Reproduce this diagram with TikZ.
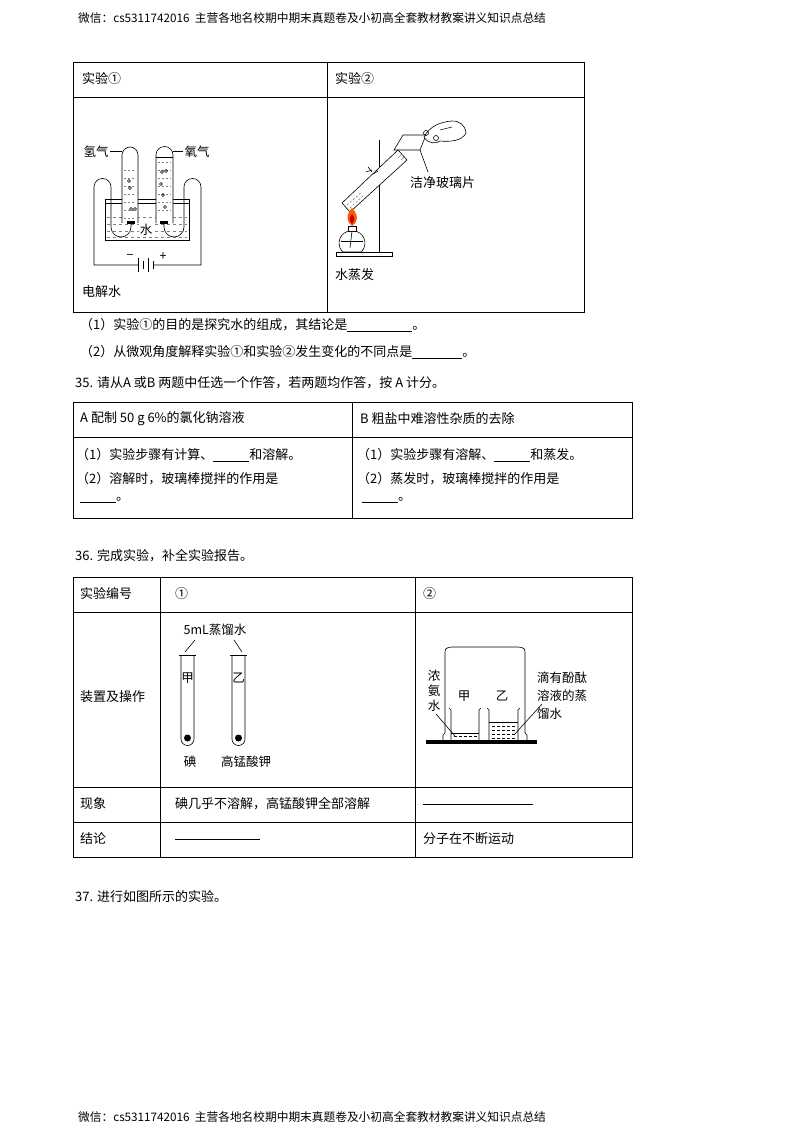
\documentclass[tikz,border=0pt]{standalone}
\usepackage{fontspec}
\setmainfont{Noto Sans CJK SC}
\begin{document}
\begin{tikzpicture}[x=1pt,y=-1pt,
  txt/.style={anchor=west,inner sep=0pt,font=\fontsize{13}{15}\selectfont},
  small/.style={anchor=center,inner sep=0pt,font=\fontsize{12.5}{14}\selectfont},
  hdr/.style={anchor=west,inner sep=0pt,font=\fontsize{11.7}{13}\selectfont},
  tbl/.style={line width=0.9pt},
  app/.style={line width=0.6pt}]
\useasboundingbox (0,0) rectangle (800,1132);
\newcommand{\bl}[1]{\underline{\hspace{#1}}}
% header/footer
\node[hdr] (h1) at (78,18) {微信：cs5311742016\ \ 主营各地名校期中期末真题卷及小初高全套教材教案讲义知识点总结};
\node[hdr] (h2) at (78,1117) {微信：cs5311742016\ \ 主营各地名校期中期末真题卷及小初高全套教材教案讲义知识点总结};
% ---------- table 1
\draw[tbl] (73,62) rectangle (584,312);
\draw[tbl] (73,97) -- (584,97);
\draw[tbl] (327,62) -- (327,312);
\node[txt] (t1a) at (82,79) {实验①};
\node[txt] (t1b) at (335,79) {实验②};
% electrolysis
\draw[app] (105,199) -- (105,240) -- (189,240) -- (189,199) -- cycle;
\draw[app] (105,203) -- (189,203);
\draw[app,dashed,gray] (107,217) -- (187,217);
\foreach \yy in {224,231,237}{\draw[app,dash pattern=on 3pt off 3pt,gray] (107,\yy) -- (187,\yy);}
\draw[app,fill=white] (122,223) -- (122,155) arc (180:360:8) -- (138,223);
\draw[app,fill=white] (156,223) -- (156,155) arc (180:360:8.5) -- (173,223);
\foreach \yy in {162,170,178,186,194,202,210}{
  \draw[app,dash pattern=on 2pt off 2pt,gray] (124,\yy+8) -- (136,\yy+8);
  \draw[app,dash pattern=on 2pt off 2pt,gray] (158,\yy) -- (171,\yy);}
\draw[app] (156,157) -- (173,157);
\foreach \p in {(129,181),(130,188),(131,209),(135,209),(162,172),(166,171),(161,184),(163,195),(165,207)}{\draw[line width=0.4pt] \p circle (1.5);}
\fill (127,221) rectangle (135,224);
\fill (160,221) rectangle (168,224);
% wires
\draw[app] (131,224) -- (131,227) arc (0:180:10) -- (111,187) arc (0:-180:8.5) -- (94,265) -- (138,265);
\draw[app] (164,224) -- (164,227) arc (180:0:10) -- (184,187) arc (180:360:8.5) -- (201,265) -- (153,265);
\draw[line width=0.8pt] (138,258) -- (138,272);
\draw[line width=0.8pt] (143,261) -- (143,269);
\draw[line width=0.8pt] (148,258) -- (148,272);
\draw[line width=0.8pt] (153,261) -- (153,269);
\node[small] (minus) at (130,257) {−};
\node[small] (plus) at (163,257) {+};
\node[small] (h2g) at (96,152) {氢气};
\draw[app] (110,151) -- (122,151);
\node[small] (o2g) at (197,152) {氧气};
\draw[app] (173,151) -- (183,151);
\node[small,fill=white,inner sep=1pt] (water) at (146,230) {水};
\node[txt] (e1) at (82,292) {电解水};
% evaporation
\draw[app] (379,140) -- (379,252);
\draw[app] (336,252) rectangle (392,256);
\draw[app,fill=white] (350,212) -- (342,203) -- (398,150) -- (407,160) -- cycle;
\draw[app,dash pattern=on 2pt off 2pt,gray] (347,205) -- (362,192);
\draw[app,dash pattern=on 2pt off 2pt,gray] (350,208) -- (364,195);
\draw[app] (373,174) -- (378,171);
\draw[app] (368,167) -- (372,172) (366,172) -- (372,170);
\draw[app,gray] (398,158) -- (402,154) (401,160) -- (405,156);
% glass plate
\draw[app] (394,150) -- (403,135) -- (426,135) -- (420,150) -- cycle;
\draw[app] (420,150) -- (428,172);
\node[txt] (glass) at (410,183) {洁净玻璃片};
% hand
\draw[app,fill=white] (424,137) .. controls (430,126) and (440,122) .. (452,121) .. controls (460,121) and (465,125) .. (466,133) .. controls (462,141) and (450,142) .. (440,141) .. controls (436,144) and (428,144) .. (424,137);
\draw[app] (426,133) circle (2.5) (436,138) circle (2.5);
\draw[app] (440,130) -- (452,127);
% lamp
\fill[orange!70!red] (352,208) .. controls (345,215) and (347,223) .. (352,226) .. controls (358,223) and (359,215) .. (352,208);
\fill[red!70!black] (352,214) .. controls (349,219) .. (352,224) .. controls (355,219) .. (352,214);
\draw[app] (348,226) rectangle (356,231);
\draw[app] (348,231) .. controls (336,236) and (338,248) .. (343,252) -- (361,252) .. controls (366,248) and (368,236) .. (356,231);
\draw[app] (341,241) -- (363,241);
\draw[app] (352,231) -- (350,248);
\node[txt] (e2) at (335,275) {水蒸发};
% questions
\node[txt] (q1) at (80,325) {（1）实验①的目的是探究水的组成，其结论是\bl{65pt}。};
\node[txt] (q2) at (80,352) {（2）从微观角度解释实验①和实验②发生变化的不同点是\bl{50pt}。};
\node[txt] (q35) at (75,383) {35. 请从A 或B 两题中任选一个作答，若两题均作答，按 A 计分。};
% ---------- table 2
\draw[tbl] (73,402) rectangle (632,518);
\draw[tbl] (73,437) -- (632,437);
\draw[tbl] (352,402) -- (352,518);
\node[txt] (a0) at (80,419) {A 配制 50 g 6\%的氯化钠溶液};
\node[txt] (b0) at (360,419) {B 粗盐中难溶性杂质的去除};
\node[txt] (a1) at (76,455) {（1）实验步骤有计算、\bl{36pt}和溶解。};
\node[txt] (a2) at (76,479) {（2）溶解时，玻璃棒搅拌的作用是};
\node[txt] (a3) at (80,500) {\bl{36pt}。};
\node[txt] (b1) at (357,455) {（1）实验步骤有溶解、\bl{36pt}和蒸发。};
\node[txt] (b2) at (357,479) {（2）蒸发时，玻璃棒搅拌的作用是};
\node[txt] (b3) at (362,500) {\bl{36pt}。};
\node[txt] (q36) at (75,556) {36. 完成实验，补全实验报告。};
% ---------- table 3
\draw[tbl] (73,577) rectangle (632,857);
\foreach \yy in {612,787,822}{\draw[tbl] (73,\yy) -- (632,\yy);}
\draw[tbl] (160,577) -- (160,857);
\draw[tbl] (415,577) -- (415,857);
\node[txt] (c0) at (80,594) {实验编号};
\node[txt] (c1) at (175,594) {①};
\node[txt] (c2) at (423,594) {②};
\node[txt] (c3) at (80,697) {装置及操作};
\node[txt] (c4) at (80,804) {现象};
\node[txt] (c5) at (175,804) {碘几乎不溶解，高锰酸钾全部溶解};
\node[txt] (c6) at (423,804) {\bl{110pt}};
\node[txt] (c7) at (80,839) {结论};
\node[txt] (c8) at (175,839) {\bl{85pt}};
\node[txt] (c9) at (423,839) {分子在不断运动};
% test tubes
\draw[app] (181,655) -- (181,739) arc (180:0:6.5) -- (194,655);
\draw[app] (179,655) -- (196,655);
\draw[app] (232,655) -- (232,739) arc (180:0:6.5) -- (245,655);
\draw[app] (230,655) -- (247,655);
\fill (187.5,738) circle (3.5);
\fill (238.5,738) circle (3.5);
\node[small] (ml) at (215,630) {5mL蒸馏水};
\draw[app] (185,652) -- (195,640);
\draw[app] (242,652) -- (234,640);
\node[small] (jia1) at (187.5,678) {甲};
\node[small] (yi1) at (238.5,678) {乙};
\node[small] (iod) at (190,762) {碘};
\node[small] (kmn) at (246,762) {高锰酸钾};
% bell jar
\fill (426,740) rectangle (537,744);
\draw[app] (443,740) -- (443,735) -- (445,733) -- (445,655) .. controls (445,648) .. (452,647) -- (518,647) .. controls (525,648) .. (525,655) -- (525,733) -- (527,735) -- (527,740);
\draw[app] (449,708) -- (451,710) -- (451,740) (481,708) -- (479,710) -- (479,740);
\draw[app] (487,708) -- (489,710) -- (489,740) (520,708) -- (518,710) -- (518,740);
\draw[app] (451,733) -- (479,733);
\draw[app] (489,722) -- (518,722);
\foreach \yy in {736}{\draw[app,dash pattern=on 3pt off 2pt] (454,\yy) -- (477,\yy);}
\foreach \yy in {726,730,734,738}{\draw[app,dash pattern=on 3pt off 2pt] (492,\yy) -- (516,\yy);}
\node[small] (n1) at (434,676) {浓};
\node[small] (n2) at (434,691) {氨};
\node[small] (n3) at (434,706) {水};
\draw[app] (436,714) -- (455,736);
\node[small] (jia2) at (464,696) {甲};
\node[small] (yi2) at (502,696) {乙};
\node[small,anchor=west] (p1) at (537,678) {滴有酚酞};
\node[small,anchor=west] (p2) at (537,696) {溶液的蒸};
\node[small,anchor=west] (p3) at (537,714) {馏水};
\draw[app] (542,704) -- (514,735);
\node[txt] (q37) at (75,897) {37. 进行如图所示的实验。};
\end{tikzpicture}
\end{document}
